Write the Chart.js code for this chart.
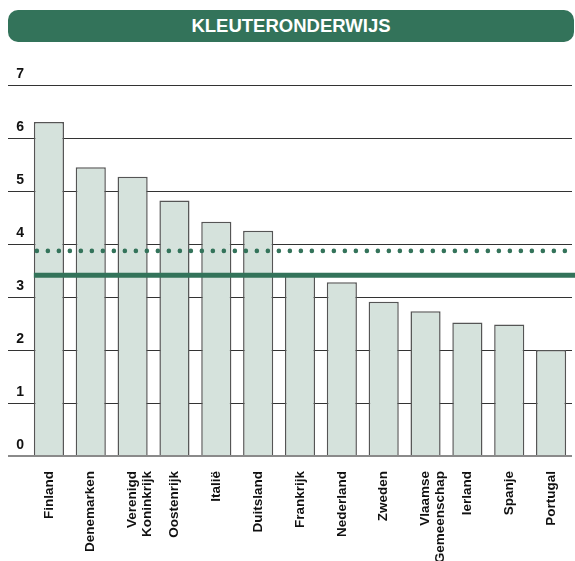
<!DOCTYPE html>
<html>
<head>
<meta charset="utf-8">
<script src="https://cdn.jsdelivr.net/npm/chart.js@4.4.1/dist/chart.umd.min.js"></script>
<style>
  html, body { margin: 0; padding: 0; background: #fff; }
  #wrap { position: relative; width: 575px; height: 561px; overflow: hidden; }
  #title {
    position: absolute; left: 8px; top: 10px; width: 566px; height: 32px;
    background: #33735a; border-radius: 10px; color: #fff;
    font-family: 'Liberation Sans', Arial, sans-serif;
    font-weight: bold; font-size: 18.5px; line-height: 32px; text-align: center;
    z-index: 2;
  }
  canvas { position: absolute; left: 0; top: 0; }
</style>
</head>
<body>
<div id="wrap">
  <div id="title">KLEUTERONDERWIJS</div>
  <canvas id="c" width="575" height="561"></canvas>
</div>
<script>
const categories = [
  'Finland', 'Denemarken', ['Verenigd', 'Koninkrijk'], 'Oostenrijk', 'Italië',
  'Duitsland', 'Frankrijk', 'Nederland', 'Zweden', ['Vlaamse', 'Gemeenschap'],
  'Ierland', 'Spanje', 'Portugal'
];
const values = [6.30, 5.45, 5.27, 4.82, 4.42, 4.25, 3.43, 3.28, 2.91, 2.73, 2.52, 2.48, 2.00];
const dottedAverage = [3.87];
const solidAverage = [3.41];
const yTicks = [0, 1, 2, 3, 4, 5, 6, 7];

const FONT = "'Liberation Sans', Arial, sans-serif";
const GREEN = '#33735a';

const refLinesPlugin = {
  id: 'refLines',
  afterDatasetsDraw(chart) {
    const ctx = chart.ctx;
    const y = chart.scales.y;
    const meta = chart.getDatasetMeta(0);
    const first = meta.data[0];
    const xStart = first.x - first.width / 2;
    const xEnd = chart.width;
    ctx.save();
    solidAverage.forEach(v => {
      const py = y.getPixelForValue(v);
      ctx.beginPath();
      ctx.strokeStyle = GREEN;
      ctx.lineWidth = 5;
      ctx.moveTo(xStart, py);
      ctx.lineTo(xEnd, py);
      ctx.stroke();
    });
    dottedAverage.forEach(v => {
      const py = y.getPixelForValue(v);
      ctx.beginPath();
      ctx.strokeStyle = GREEN;
      ctx.lineWidth = 4.6;
      ctx.lineCap = 'round';
      ctx.setLineDash([0, 11]);
      ctx.moveTo(xStart + 3, py);
      ctx.lineTo(xEnd, py);
      ctx.stroke();
    });
    ctx.restore();
  }
};

new Chart(document.getElementById('c'), {
  type: 'bar',
  data: {
    labels: categories,
    datasets: [{
      data: values,
      backgroundColor: '#d5e2dc',
      borderColor: '#555555',
      borderWidth: 1.5,
      barPercentage: 0.72,
      categoryPercentage: 1.0
    }]
  },
  options: {
    responsive: false,
    animation: false,
    events: [],
    layout: { padding: { left: 8, right: 3, top: 85, bottom: 0 } },
    plugins: { legend: { display: false }, tooltip: { enabled: false }, title: { display: false } },
    scales: {
      x: {
        grid: { display: false },
        border: { display: false },
        ticks: {
          autoSkip: false,
          maxRotation: 90,
          minRotation: 90,
          padding: 7,
          color: '#111',
          font: { family: FONT, weight: 'bold', size: 13.5, lineHeight: 1.12 }
        },
        afterFit(scale) { scale.height = 105; }
      },
      y: {
        min: 0,
        max: 7,
        afterBuildTicks(scale) { scale.ticks = yTicks.map(v => ({ value: v })); },
        border: { display: false },
        grid: {
          drawTicks: true,
          tickLength: 20,
          color: ctx => (ctx.tick && ctx.tick.value === 0) ? '#8a8a8a' : '#333',
          lineWidth: ctx => (ctx.tick && ctx.tick.value === 0) ? 2 : 1
        },
        ticks: {
          padding: -16,
          labelOffset: -11,
          color: '#111',
          font: { family: FONT, weight: 'bold', size: 14 }
        },
        afterFit(scale) { scale.width = 20; }
      }
    }
  },
  plugins: [refLinesPlugin]
});
</script>
</body>
</html>
